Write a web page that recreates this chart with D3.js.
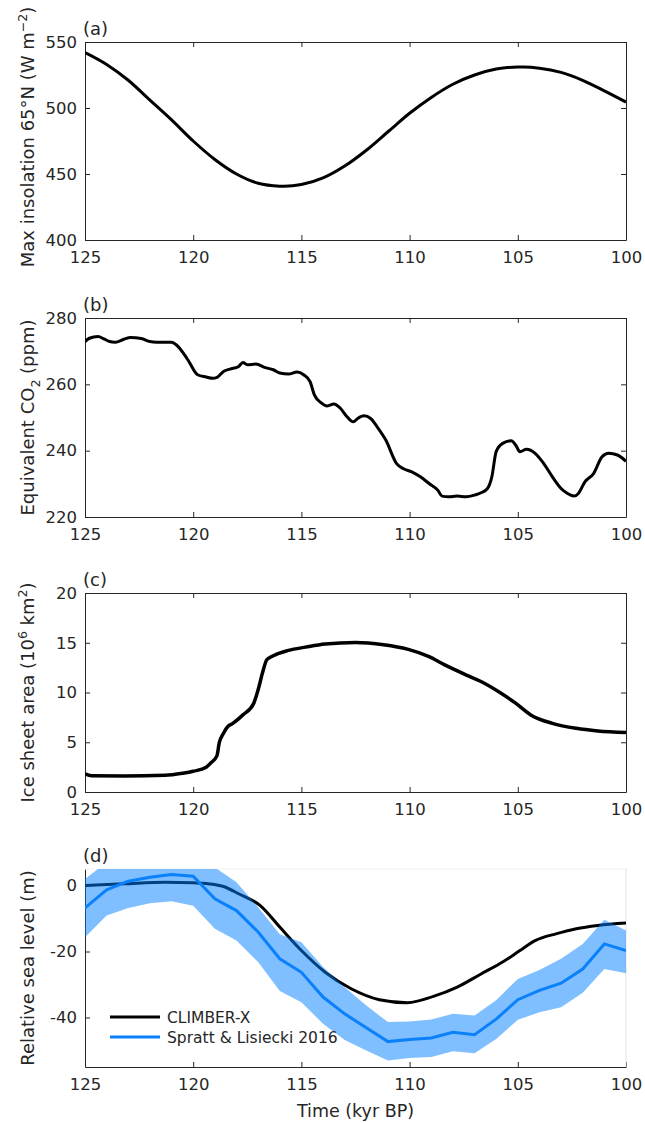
<!DOCTYPE html>
<html>
<head>
<meta charset="utf-8">
<script src="https://cdn.jsdelivr.net/npm/d3@7"></script>
<style>
  html, body { margin: 0; padding: 0; background: #fff; }
  svg { display: block; font-family: "DejaVu Sans", sans-serif; }
</style>
</head>
<body>
<svg id="chart" width="645" height="1123"></svg>
<script>
// ---------------- DATA ----------------
const xTicks = [125, 120, 115, 110, 105, 100];

// (a) Max insolation 65N
const insolYears  = [125,124,123,122,121,120,119,118,117,116,115.8,115,114,113,112,111,110,109,108,107,106,105,104.75,104,103,102,101,100];
const insolValues = [542,533,521,506,491,475,461,450,443,440.8,440.7,442,447,456,468,482,496,508,518,525,529.5,531,531,530.2,527,521,513,504.5];

// (b) Equivalent CO2
const co2Years  = [125,124.8,124.4,124.1,123.9,123.6,123.2,122.9,122.4,122,121.7,121,120.8,120.4,120.2,119.8,119.4,119.1,118.9,118.6,118.3,117.9,117.7,117.5,117.1,116.7,116.3,116,115.6,115.2,114.9,114.6,114.4,114.1,113.8,113.5,113.2,112.9,112.6,112.4,112.1,111.8,111.5,111.1,110.6,110.3,109.9,109.5,109.1,108.7,108.5,108.2,107.8,107.4,107,106.7,106.4,106.2,106,105.7,105.3,105.1,104.9,104.6,104.2,103.8,103.4,103,102.7,102.4,102.2,101.9,101.5,101.1,100.8,100.4,100];
const co2Values = [272.9,273.9,274.4,273.6,273.0,272.7,273.6,274.1,273.8,272.9,272.7,272.7,272.0,268.9,266.9,262.9,262.2,261.8,262.1,263.9,264.6,265.4,266.6,265.9,266.1,265.1,264.4,263.4,263.1,263.7,262.9,260.8,256.8,254.5,253.5,254.1,252.8,250.3,248.7,249.7,250.5,249.7,247.2,243.2,236.1,234.6,233.6,232.1,230.1,228.1,226.3,226.1,226.3,226.1,226.6,227.3,228.6,232.1,239.7,242.2,243.0,241.7,239.7,240.4,239.2,236.1,232.1,228.6,227.1,226.3,227.1,230.6,233.1,238.2,239.2,238.7,236.8];

// (c) Ice sheet area
const iceYears  = [125,124.7,123.2,121.3,120.5,120,119.4,119.2,118.9,118.8,118.6,118.4,118.2,117.7,117.2,117,116.8,116.6,116.3,115.6,114.8,113.9,112.5,111.2,110.1,109.1,108.4,107.4,106.7,105.9,105.1,104.4,103.4,102.3,101.3,100];
const iceValues = [1.81,1.64,1.61,1.68,1.88,2.08,2.48,2.89,3.66,4.9,5.9,6.58,6.85,7.75,8.93,10.27,11.95,13.29,13.7,14.23,14.56,14.87,15.03,14.8,14.36,13.6,12.8,11.78,11.1,10.1,8.93,7.75,6.9,6.4,6.14,5.97];

// (d) Relative sea level: CLIMBER-X
const slModelYears  = [125,123.2,121.3,120,119.4,118.6,117.9,116.9,116,115,113.9,112.7,111.4,110.1,108.9,107.8,106.7,105.7,104.9,104.2,103.2,102.3,101.3,100];
const slModelValues = [0,0.5,1,0.8,0.6,-0.3,-2.5,-6.1,-12.6,-19.7,-26.3,-31.3,-34.6,-35.5,-33.6,-30.8,-26.8,-23.2,-19.7,-16.7,-14.6,-13.1,-12.1,-11.4];

// (d) Spratt & Lisiecki 2016: mean and uncertainty band
const slDataYears  = [125,124,123,122,121,120,119,118,117,116,115,114,113,112,111,110,109,108,107,106,105,104,103,102,101,100];
const slDataMean   = [-6.8,-1.3,1.3,2.5,3.3,2.8,-4.0,-7.6,-14.1,-22.2,-26.3,-33.8,-38.9,-43.1,-47.3,-46.7,-46.2,-44.5,-45.2,-40.5,-34.6,-31.8,-29.6,-25.3,-17.7,-19.7];
const slDataUpper  = [2.0,7.0,8.5,9.5,10.3,9.8,5.5,1.0,-6.6,-14.8,-17.2,-24.7,-30.8,-36.4,-41.4,-41.2,-40.6,-38.9,-39.4,-34.8,-28.3,-25.6,-22.2,-17.7,-10.4,-13.6];
const slDataLower  = [-15.7,-9.1,-6.8,-5.4,-4.8,-6.1,-13.1,-16.7,-23.2,-32.0,-35.4,-41.9,-46.8,-50.0,-53.0,-52.3,-52.0,-50.2,-50.8,-46.5,-40.7,-38.4,-36.9,-32.5,-25.3,-26.6];

const legendLabels = ["CLIMBER-X", "Spratt & Lisiecki 2016"];

// ---------------- LAYOUT ----------------
const svg = d3.select("#chart");
const left = 85, right = 626;
const textColor = "#262626";
const axisColor = "#262626";
const tickFont = "16.5px";
const labelFont = "18px";
const x = d3.scaleLinear().domain([125, 100]).range([left, right]);

function zip(a, b) { return a.map((t, i) => [t, b[i]]); }

function panel(opts) {
  const y = d3.scaleLinear().domain(opts.domain).range([opts.bottom, opts.top]);
  const g = svg.append("g");
  const clipId = "clip" + opts.label;
  svg.append("clipPath").attr("id", clipId)
    .append("rect").attr("x", left).attr("y", opts.top)
    .attr("width", right - left).attr("height", opts.bottom - opts.top);

  const bx = g.append("g").attr("transform", `translate(0,${opts.bottom})`)
    .call(d3.axisBottom(x).tickValues(xTicks).tickSizeInner(-5).tickSizeOuter(0).tickPadding(11).tickFormat(d3.format("d")));
  const ly = g.append("g").attr("transform", `translate(${left},0)`)
    .call(d3.axisLeft(y).tickValues(opts.yTicks).tickSizeInner(-5).tickSizeOuter(0).tickPadding(8).tickFormat(d => d < 0 ? "-" + Math.abs(d) : d));
  [bx, ly].forEach(a => {
    a.select(".domain").attr("stroke", axisColor).attr("stroke-width", 1);
    a.selectAll(".tick line").attr("stroke", axisColor).attr("stroke-width", 1);
    a.selectAll(".tick text").attr("fill", textColor).style("font-size", tickFont).style("font-family", "DejaVu Sans");
  });
  if (opts.box) {
    const tx = g.append("g").attr("transform", `translate(0,${opts.top})`)
      .call(d3.axisTop(x).tickValues(xTicks).tickSizeInner(-5).tickSizeOuter(0).tickFormat(""));
    const ry = g.append("g").attr("transform", `translate(${right},0)`)
      .call(d3.axisRight(y).tickValues(opts.yTicks).tickSizeInner(-5).tickSizeOuter(0).tickFormat(""));
    [tx, ry].forEach(a => {
      a.select(".domain").attr("stroke", axisColor).attr("stroke-width", 1);
      a.selectAll(".tick line").attr("stroke", axisColor).attr("stroke-width", 1);
    });
  } else {
    g.append("line").attr("x1", left).attr("x2", right).attr("y1", opts.top).attr("y2", opts.top)
      .attr("stroke", "#f2f2f2").attr("stroke-width", 1);
    g.append("line").attr("x1", right).attr("x2", right).attr("y1", opts.top).attr("y2", opts.bottom)
      .attr("stroke", "#e4e4e4").attr("stroke-width", 1);
  }

  g.append("text").attr("x", left - 2).attr("y", opts.top - 7)
    .attr("fill", textColor).style("font-size", labelFont).text(`(${opts.label})`);

  const yl = g.append("text")
    .attr("transform", `translate(${opts.ylx},${(opts.top + opts.bottom) / 2 + (opts.ylshift || 0)}) rotate(-90)`)
    .attr("text-anchor", "middle").attr("fill", textColor).style("font-size", labelFont);
  opts.ylabel(yl);

  const plot = g.append("g").attr("clip-path", `url(#${clipId})`);
  return { y, plot, g };
}

const lineSmooth = y => d3.line().x(d => x(d[0])).y(d => y(d[1])).curve(d3.curveMonotoneX);

// (a)
{
  const p = panel({ label: "a", top: 42, bottom: 240, domain: [400, 550], yTicks: [400, 450, 500, 550], box: true, ylx: 34, ylshift: -4,
    ylabel: t => { t.append("tspan").text("Max insolation 65°N (W m");
                   t.append("tspan").attr("dy", -7).style("font-size", "12.5px").text("−2");
                   t.append("tspan").attr("dy", 7).text(")"); } });
  p.plot.append("path").datum(zip(insolYears, insolValues))
    .attr("d", lineSmooth(p.y)).attr("fill", "none").attr("stroke", "#000").attr("stroke-width", 3);
}
// (b)
{
  const p = panel({ label: "b", top: 318, bottom: 517, domain: [220, 280], yTicks: [220, 240, 260, 280], box: true, ylx: 34,
    ylabel: t => { t.append("tspan").text("Equivalent CO");
                   t.append("tspan").attr("dy", 6).style("font-size", "12.5px").text("2");
                   t.append("tspan").attr("dy", -6).text(" (ppm)"); } });
  p.plot.append("path").datum(zip(co2Years, co2Values))
    .attr("d", lineSmooth(p.y)).attr("fill", "none").attr("stroke", "#000").attr("stroke-width", 3).attr("stroke-linejoin", "round");
}
// (c)
{
  const p = panel({ label: "c", top: 593, bottom: 792, domain: [0, 20], yTicks: [0, 5, 10, 15, 20], box: true, ylx: 34,
    ylabel: t => { t.append("tspan").text("Ice sheet area (10");
                   t.append("tspan").attr("dy", -7).style("font-size", "12.5px").text("6");
                   t.append("tspan").attr("dy", 7).text(" km");
                   t.append("tspan").attr("dy", -7).style("font-size", "12.5px").text("2");
                   t.append("tspan").attr("dy", 7).text(")"); } });
  p.plot.append("path").datum(zip(iceYears, iceValues))
    .attr("d", lineSmooth(p.y)).attr("fill", "none").attr("stroke", "#000").attr("stroke-width", 3.5).attr("stroke-linejoin", "round");
}
// (d)
{
  const p = panel({ label: "d", top: 869, bottom: 1067, domain: [-55, 5], yTicks: [-40, -20, 0], box: false, ylx: 34,
    ylabel: t => { t.text("Relative sea level (m)"); } });
  p.plot.append("path").datum(zip(slModelYears, slModelValues))
    .attr("d", lineSmooth(p.y)).attr("fill", "none").attr("stroke", "#000").attr("stroke-width", 3);
  const area = d3.area().x(d => x(d[0])).y0(d => p.y(d[1])).y1(d => p.y(d[2]));
  p.plot.append("path").datum(slDataYears.map((t, i) => [t, slDataLower[i], slDataUpper[i]]))
    .attr("d", area).attr("fill", "#0080ff").attr("fill-opacity", 0.5);
  p.plot.append("path").datum(zip(slDataYears, slDataMean))
    .attr("d", d3.line().x(d => x(d[0])).y(d => p.y(d[1])))
    .attr("fill", "none").attr("stroke", "#0a80fa").attr("stroke-width", 3);

  const colors = ["#000", "#0a80fa"];
  const lg = p.g.append("g");
  legendLabels.forEach((lab, i) => {
    const yy = 1017 + i * 20;
    lg.append("line").attr("x1", 110).attr("x2", 160).attr("y1", yy).attr("y2", yy)
      .attr("stroke", colors[i]).attr("stroke-width", 3);
    lg.append("text").attr("x", 167).attr("y", yy + 5.5).attr("fill", textColor)
      .style("font-size", "15.5px").text(lab);
  });

  svg.append("text").attr("x", (left + right) / 2).attr("y", 1117).attr("text-anchor", "middle")
    .attr("fill", textColor).style("font-size", "17.5px").text("Time (kyr BP)");
}
</script>
</body>
</html>
